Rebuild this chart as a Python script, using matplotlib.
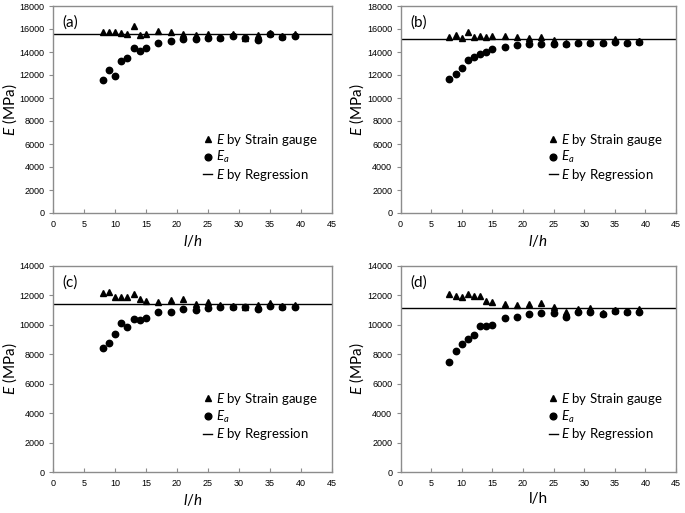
import numpy as np
import matplotlib
matplotlib.use('Agg')
import matplotlib.pyplot as plt

# l/h positions
lh = [8, 9, 10, 11, 12, 13, 14, 15, 17, 19, 21, 23, 25, 27, 29, 31, 33, 35, 37, 39]

# E by strain gauge (MPa)
gauge_a = [15750, 15750, 15750, 15650, 15550, 16300, 15450, 15600, 15800, 15700,
           15550, 15450, 15600, 15300, 15550, 15250, 15450, 15650, 15400, 15600]
gauge_b = [15340, 15510, 15190, 15740, 15340, 15390, 15340, 15390, 15390, 15340,
           15220, 15340, 15020, 14800, 14900, 14850, 14850, 15130, 14850, 14950]
gauge_c = [12150, 12240, 11880, 11920, 11860, 12130, 11740, 11650, 11540, 11700,
           11740, 11450, 11540, 11380, 11250, 11200, 11360, 11490, 11250, 11360]
gauge_d = [12100, 11990, 11900, 12100, 11950, 11970, 11630, 11540, 11450, 11380,
           11430, 11470, 11200, 10900, 11060, 11130, 10800, 11000, 10950, 11090]

# E_a (MPa)
ea_a = [11550, 12470, 11950, 13220, 13450, 14380, 14120, 14320, 14790, 14990,
        15130, 15130, 15190, 15250, 15360, 15220, 15080, 15540, 15340, 15390]
ea_b = [11690, 12090, 12620, 13280, 13600, 13860, 14000, 14290, 14470, 14610,
        14730, 14700, 14670, 14730, 14810, 14760, 14790, 14840, 14790, 14870]
ea_c = [8420, 8800, 9370, 10110, 9840, 10380, 10320, 10500, 10840, 10860,
        11090, 11000, 11130, 11200, 11200, 11200, 11110, 11310, 11200, 11240]
ea_d = [7470, 8190, 8670, 9070, 9320, 9910, 9950, 10000, 10480, 10540,
        10750, 10790, 10790, 10520, 10860, 10880, 10720, 10970, 10880, 10880]

# E by regression (MPa)
reg = [15600, 15100, 11400, 11130]

labels = ['(a)', '(b)', '(c)', '(d)']
xlabels = ['$l/h$', '$l/h$', '$l/h$', 'l/h']
ymax = [18000, 18000, 14000, 14000]
ystep = [2000, 2000, 2000, 2000]

gauges = [gauge_a, gauge_b, gauge_c, gauge_d]
eas = [ea_a, ea_b, ea_c, ea_d]

plt.rcParams['font.family'] = ['Lato', 'DejaVu Sans']
plt.rcParams['mathtext.fontset'] = 'custom'
plt.rcParams['mathtext.it'] = 'Lato:italic'
plt.rcParams['mathtext.rm'] = 'Lato'

fig = plt.figure(figsize=(6.85, 5.13), dpi=100)

positions = [
    [53 / 685, 1 - 213 / 513, 279 / 685, 207 / 513],
    [400.5 / 685, 1 - 213 / 513, 275.5 / 685, 207 / 513],
    [53 / 685, 1 - 472 / 513, 279 / 685, 206 / 513],
    [400.5 / 685, 1 - 472 / 513, 275.5 / 685, 206 / 513],
]

for i in range(4):
    ax = fig.add_axes(positions[i])
    ax.plot(lh, gauges[i], linestyle='none', marker='^', color='black',
            markersize=4, label='$E$ by Strain gauge')
    ax.plot(lh, eas[i], linestyle='none', marker='o', color='black',
            markersize=4.6, label='$E_a$')
    ax.axhline(reg[i], color='black', linewidth=1.0, label='$E$ by Regression')

    ax.set_xlim(0, 45)
    ax.set_ylim(0, ymax[i])
    ax.set_xticks(np.arange(0, 46, 5))
    ax.set_yticks(np.arange(0, ymax[i] + 1, ystep[i]))

    for s in ax.spines.values():
        s.set_color('#8c8c8c')
        s.set_linewidth(1.0)
    ax.tick_params(axis='x', direction='in', length=3, color='#8c8c8c',
                   labelsize=6.5, pad=5)
    ax.tick_params(axis='y', direction='out', length=3, color='#8c8c8c',
                   labelsize=6.5, pad=3)
    for t in ax.get_xticklabels() + ax.get_yticklabels():
        t.set_fontfamily('Liberation Sans')

    ax.set_xlabel(xlabels[i], fontsize=11, labelpad=3)
    ax.set_ylabel('$E$ (MPa)', fontsize=11)
    w = positions[i][2] * 685
    ax.yaxis.set_label_coords(-34 / w, 0.5)
    ax.text(0.035, 0.955, labels[i], transform=ax.transAxes, fontsize=11,
            ha='left', va='top')

    ax.legend(loc='lower left', bbox_to_anchor=(0.505, 0.1), frameon=False,
              fontsize=9.5, handlelength=0.7, handletextpad=0.25,
              labelspacing=0.12, borderpad=0.2, markerscale=1.05)

fig.savefig('out.png', dpi=100)
